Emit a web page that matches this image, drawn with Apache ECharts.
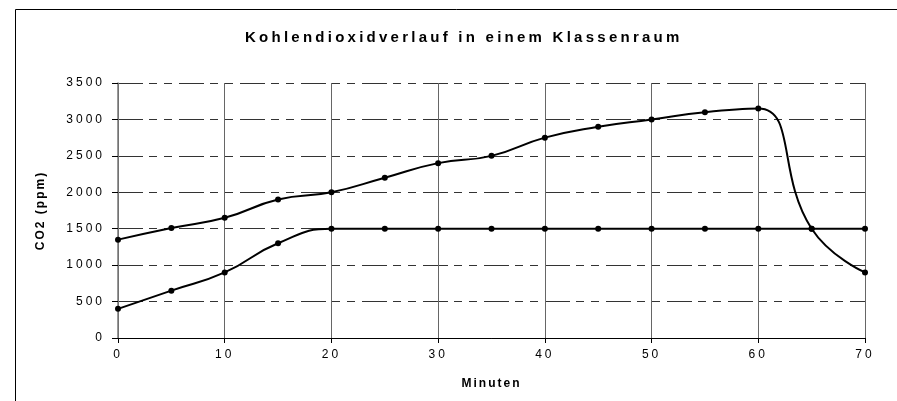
<!DOCTYPE html>
<html>
<head>
<meta charset="utf-8">
<script src="https://cdn.jsdelivr.net/npm/echarts@6/dist/echarts.min.js"></script>
<style>
html, body { margin: 0; padding: 0; background: #fff; }
#chart { width: 897px; height: 401px; }
</style>
</head>
<body>
<div id="chart"></div>
<script>
// Minuten (x) und CO2-Werte in ppm
var minuten = [0, 5, 10, 15, 20, 25, 30, 35, 40, 45, 50, 55, 60, 65, 70];
var co2Oben = [1350, 1510, 1650, 1900, 2000, 2200, 2400, 2500, 2750, 2900, 3000, 3100, 3150, 1500, 900];
var co2Unten = [400, 650, 900, 1300, 1500, 1500, 1500, 1500, 1500, 1500, 1500, 1500, 1500, 1500, 1500];
var titel = 'Kohlendioxidverlauf in einem Klassenraum';
var xName = 'Minuten';
var yName = 'CO2 (ppm)';

// the old excel chart has wide letter spacing, echarts has no option for it
var origFill = CanvasRenderingContext2D.prototype.fillText;
CanvasRenderingContext2D.prototype.fillText = function (t, x, y, m) {
    var f = this.font || '';
    var sp = '3px';
    if (f.indexOf('15px') >= 0) sp = '3.25px';
    else if (f.indexOf('bold') >= 0) sp = '2px';
    this.letterSpacing = sp;
    if (m === undefined) origFill.call(this, t, x, y);
    else origFill.call(this, t, x, y, m);
    this.letterSpacing = '0px';
};

function pairs(ys) {
    var out = [];
    for (var i = 0; i < minuten.length; i++) out.push([minuten[i], ys[i]]);
    return out;
}

var font = 'Liberation Sans, Arial, sans-serif';
var myChart = echarts.init(document.getElementById('chart'));

var serie = function (name, ys) {
    return {
        name: name,
        type: 'line',
        data: pairs(ys),
        smooth: 0.5,
        symbol: 'circle',
        symbolSize: 6,
        itemStyle: { color: '#000' },
        lineStyle: { color: '#000', width: 2 },
        emphasis: { disabled: true }
    };
};

myChart.setOption({
    animation: false,
    backgroundColor: '#fff',
    textStyle: { fontFamily: font },
    title: {
        text: titel,
        left: 245,
        top: 30,
        padding: 0,
        textStyle: { fontSize: 15, fontWeight: 'bold', color: '#000', fontFamily: font }
    },
    graphic: [{
        type: 'rect',
        shape: { x: 15.5, y: 9.5, width: 1000, height: 1000 },
        style: { fill: 'none', stroke: '#000', lineWidth: 1 },
        silent: true
    }],
    grid: { left: 118, right: 32, top: 83, bottom: 63 },
    xAxis: {
        type: 'value',
        min: 0,
        max: 70,
        interval: 10,
        name: xName,
        nameLocation: 'middle',
        nameGap: 40,
        nameTextStyle: { fontSize: 12, fontWeight: 'bold', color: '#000', fontFamily: font },
        axisLine: { lineStyle: { color: '#000', width: 1 } },
        axisTick: { show: true, length: 5, lineStyle: { color: '#000' } },
        axisLabel: { margin: 11, fontSize: 12, color: '#000', fontFamily: font },
        splitLine: { show: true, lineStyle: { color: '#666', width: 1, type: 'solid' } }
    },
    yAxis: {
        type: 'value',
        min: 0,
        max: 3500,
        interval: 500,
        name: yName,
        nameLocation: 'middle',
        nameGap: 71,
        nameTextStyle: { fontSize: 12, fontWeight: 'bold', color: '#000', fontFamily: font },
        axisLine: { show: true, lineStyle: { color: '#777', width: 1.5 } },
        axisTick: { show: true, length: 6, lineStyle: { color: '#000' } },
        axisLabel: {
            margin: 13, fontSize: 12, color: '#000', fontFamily: font,
            formatter: function (v) { return String(v); }
        },
        splitLine: { show: true, lineStyle: { color: '#333', width: 1, type: [25, 6, 8, 7, 8, 7] } }
    },
    series: [serie('oben', co2Oben), serie('unten', co2Unten)]
});
</script>
</body>
</html>
